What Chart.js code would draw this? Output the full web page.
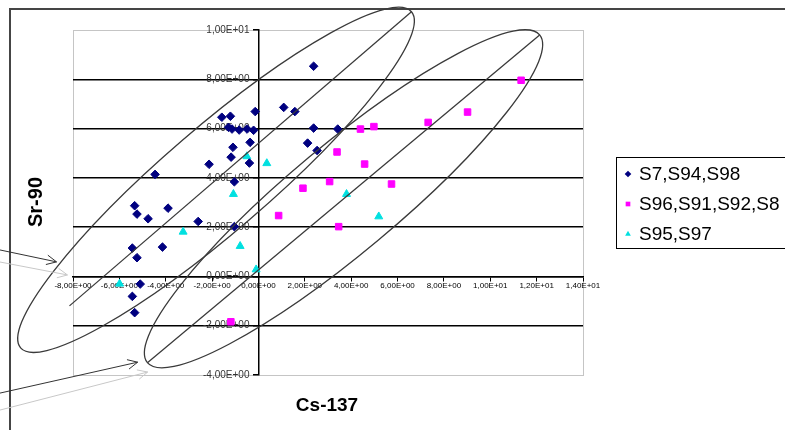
<!DOCTYPE html>
<html>
<head>
<meta charset="utf-8">
<script src="https://cdn.jsdelivr.net/npm/chart.js"></script>
<style>
  html, body { margin: 0; padding: 0; background: #fff; }
  #wrap { width: 785px; height: 430px; position: relative; }
</style>
</head>
<body>
<div id="wrap"><canvas id="chart"></canvas></div>
<script>
const seriesNames = ['S7,S94,S98', 'S96,S91,S92,S8', 'S95,S97'];

// Cs-137 (x) / Sr-90 (y)
const s7X = [-1.58, -1.21, -0.14, 1.09, 1.57, -1.29, -1.14, -0.83, -0.49, -0.21, 2.38, 2.38, 3.42, -0.36, 2.12, 2.53, -1.10,
  -1.18, -0.39, -2.13, -4.46, -1.04, -5.34, -5.24, -4.76, -3.90, -2.60, -1.04, -5.44, -4.14, -5.24, -5.10, -5.44, -5.34];
const s7Y = [6.46, 6.50, 6.69, 6.86, 6.69, 6.05, 5.98, 5.94, 5.98, 5.93, 8.53, 6.02, 5.98, 5.44, 5.41, 5.11, 5.24,
  4.84, 4.60, 4.55, 4.14, 3.84, 2.87, 2.53, 2.34, 2.77, 2.23, 2.02, 1.15, 1.19, 0.76, -0.31, -0.81, -1.47];

const s96X = [11.33, 9.02, 7.32, 4.98, 4.40, 3.39, 4.58, 3.07, 5.74, 1.92, 0.87, 3.46, -1.19];
const s96Y = [7.96, 6.67, 6.25, 6.08, 5.98, 5.05, 4.56, 3.85, 3.75, 3.58, 2.47, 2.02, -1.84];

const s95X = [-0.50, 0.36, -1.08, -3.25, -0.79, -0.10, -5.99, 3.80, 5.19];
const s95Y = [4.87, 4.59, 3.34, 1.81, 1.23, 0.28, -0.30, 3.34, 2.43];

const xTicks = [-8, -6, -4, -2, 0, 2, 4, 6, 8, 10, 12, 14];
const xTickLabels = ['-8,00E+00', '-6,00E+00', '-4,00E+00', '-2,00E+00', '0,00E+00', '2,00E+00',
  '4,00E+00', '6,00E+00', '8,00E+00', '1,00E+01', '1,20E+01', '1,40E+01'];
const yTicks = [-4, -2, 0, 2, 4, 6, 8, 10];
const yTickLabels = ['-4,00E+00', '-2,00E+00', '0,00E+00', '2,00E+00', '4,00E+00', '6,00E+00', '8,00E+00', '1,00E+01'];

const FONT = "'Liberation Sans', Arial, sans-serif";

const toPoints = (xs, ys) => xs.map((x, i) => ({ x: x, y: ys[i] }));

// hand-drawn groupings on the original: centre and upper tip in data units, half width in px
const ellipses = [
  { center: [-1.83, 3.92], tip: [6.60, 10.74], minor: 52, axisFrom: -0.75 },
  { center: [3.67, 3.15], tip: [12.13, 9.80], minor: 54, axisFrom: -1 }
];
const arrows = [
  { from: [-11.18, 1.08], to: [-8.71, 0.59], color: '#333' },
  { from: [-11.18, 0.59], to: [-8.24, 0.06], color: '#c8c8c8' },
  { from: [-11.18, -4.74], to: [-5.21, -3.48], color: '#333' },
  { from: [-11.18, -5.43], to: [-4.78, -3.88], color: '#c8c8c8' }
];

function drawArrow(ctx, x1, y1, x2, y2, color) {
  const ang = Math.atan2(y2 - y1, x2 - x1);
  ctx.save();
  ctx.strokeStyle = color;
  ctx.lineWidth = 1;
  ctx.beginPath();
  ctx.moveTo(x1, y1);
  ctx.lineTo(x2, y2);
  ctx.moveTo(x2 - 11 * Math.cos(ang - 0.45), y2 - 11 * Math.sin(ang - 0.45));
  ctx.lineTo(x2, y2);
  ctx.lineTo(x2 - 11 * Math.cos(ang + 0.45), y2 - 11 * Math.sin(ang + 0.45));
  ctx.stroke();
  ctx.restore();
}

const decor = {
  id: 'decor',
  beforeDraw(chart) {
    const ctx = chart.ctx;
    const a = chart.chartArea;
    // y labels of an axis placed at x=0 ignore padding: push them left of the tick marks
    const ys = chart.scales.y;
    ys.getLabelItems().forEach(it => {
      if (!it.shifted) {
        it.options.translation = [it.options.translation[0] - 9, it.options.translation[1]];
        it.shifted = true;
      }
    });
    ctx.save();
    // outer chart frame
    ctx.strokeStyle = '#454545';
    ctx.lineWidth = 2;
    ctx.beginPath();
    ctx.moveTo(785, 9);
    ctx.lineTo(10, 9);
    ctx.lineTo(10, 430);
    ctx.stroke();
    // dotted plot area border
    ctx.strokeStyle = '#8a8a8a';
    ctx.lineWidth = 1;
    ctx.setLineDash([1, 1]);
    ctx.strokeRect(a.left + 0.5, a.top + 0.5, a.right - a.left, a.bottom - a.top);
    ctx.restore();
  },
  afterDraw(chart) {
    const ctx = chart.ctx;
    const xs = chart.scales.x, ys = chart.scales.y;
    ctx.save();
    ctx.strokeStyle = '#3a3a3a';
    ctx.lineWidth = 1.3;
    ellipses.forEach(e => {
      const cx = xs.getPixelForValue(e.center[0]), cy = ys.getPixelForValue(e.center[1]);
      const tx = xs.getPixelForValue(e.tip[0]), ty = ys.getPixelForValue(e.tip[1]);
      const r = Math.hypot(tx - cx, ty - cy), ang = Math.atan2(ty - cy, tx - cx);
      ctx.beginPath();
      ctx.ellipse(cx, cy, r, e.minor, ang, 0, Math.PI * 2);
      ctx.stroke();
      ctx.beginPath();
      ctx.moveTo(cx + (tx - cx) * e.axisFrom, cy + (ty - cy) * e.axisFrom);
      ctx.lineTo(tx, ty);
      ctx.stroke();
    });
    arrows.forEach(ar => drawArrow(ctx,
      xs.getPixelForValue(ar.from[0]), ys.getPixelForValue(ar.from[1]),
      xs.getPixelForValue(ar.to[0]), ys.getPixelForValue(ar.to[1]), ar.color));

    // axis titles
    ctx.fillStyle = '#000';
    ctx.font = 'bold 19px ' + FONT;
    ctx.textAlign = 'center';
    ctx.textBaseline = 'alphabetic';
    ctx.fillText('Cs-137', 327, 411);
    ctx.font = 'bold 20px ' + FONT;
    ctx.save();
    ctx.translate(42, 202);
    ctx.rotate(-Math.PI / 2);
    ctx.fillText('Sr-90', 0, 0);
    ctx.restore();

    // legend
    ctx.fillStyle = '#fff';
    ctx.fillRect(616, 157, 175, 91);
    ctx.strokeStyle = '#000';
    ctx.lineWidth = 1;
    ctx.strokeRect(616.5, 157.5, 175, 91);
    ctx.font = '19px ' + FONT;
    ctx.textAlign = 'left';
    ctx.textBaseline = 'middle';
    chart.data.datasets.forEach((ds, i) => {
      const y = 174 + i * 30;
      ctx.fillStyle = ds.backgroundColor;
      ctx.strokeStyle = ds.backgroundColor;
      Chart.helpers.drawPoint(ctx, { pointStyle: ds.pointStyle, radius: 3.3, rotation: 0, borderWidth: 0 }, 628, y);
      ctx.fillStyle = '#000';
      ctx.fillText(ds.label, 639, y + 1);
    });
    ctx.restore();
  }
};

new Chart(document.getElementById('chart'), {
  type: 'scatter',
  data: {
    datasets: [
      { label: seriesNames[0], data: toPoints(s7X, s7Y), pointStyle: 'rectRot', radius: 4.3,
        backgroundColor: '#000080', borderColor: '#000080', borderWidth: 1 },
      { label: seriesNames[1], data: toPoints(s96X, s96Y), pointStyle: 'rect', radius: 4.6,
        backgroundColor: '#ff00ff', borderColor: '#ff00ff', borderWidth: 1 },
      { label: seriesNames[2], data: toPoints(s95X, s95Y), pointStyle: 'triangle', radius: 4.6,
        backgroundColor: '#00e0e0', borderColor: '#00e0e0', borderWidth: 1 }
    ]
  },
  options: {
    responsive: true,
    maintainAspectRatio: false,
    animation: false,
    devicePixelRatio: 1,
    layout: { padding: { left: 73, top: 30, right: 202, bottom: 55 } },
    plugins: { legend: { display: false }, tooltip: { enabled: false } },
    scales: {
      x: {
        type: 'linear',
        position: { y: 0 },
        min: -8, max: 14,
        afterBuildTicks: s => { s.ticks = xTicks.map(v => ({ value: v })); },
        ticks: {
          autoSkip: false, maxRotation: 0, padding: 1, color: '#000',
          font: { family: FONT, size: 8 },
          callback: v => { const i = xTicks.indexOf(v); return i < 0 ? '' : xTickLabels[i]; }
        },
        grid: { drawOnChartArea: false, tickLength: 4, color: '#000', lineWidth: 1 },
        border: { color: '#000', width: 1.5 }
      },
      y: {
        type: 'linear',
        position: { x: 0 },
        min: -4, max: 10,
        afterBuildTicks: s => { s.ticks = yTicks.map(v => ({ value: v })); },
        ticks: {
          padding: 10, color: '#333',
          font: { family: FONT, size: 10 },
          callback: v => { const i = yTicks.indexOf(v); return i < 0 ? '' : yTickLabels[i]; }
        },
        grid: {
          color: c => (c.tick && (c.tick.value === 10 || c.tick.value === -4)) ? 'rgba(0,0,0,0)' : '#000',
          tickColor: '#000', lineWidth: 1.5, tickLength: 5
        },
        border: { color: '#000', width: 1.5 }
      }
    }
  },
  plugins: [decor]
});
</script>
</body>
</html>
